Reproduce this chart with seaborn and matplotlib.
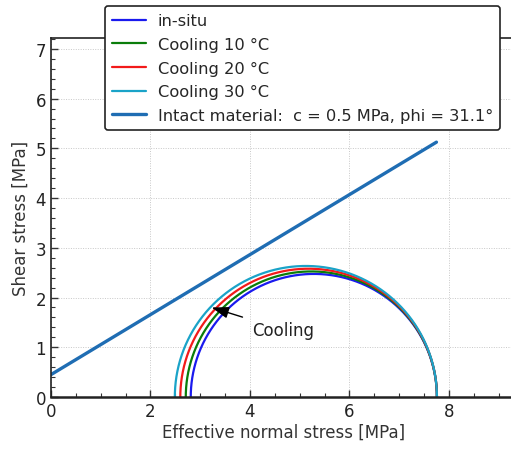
import numpy as np
import pandas as pd
import matplotlib
matplotlib.use("Agg")
import matplotlib.pyplot as plt
import seaborn as sns
from matplotlib.ticker import MultipleLocator

# Mohr circles: minimum and maximum effective principal stress [MPa]
series = ["in-situ", "Cooling 10 °C", "Cooling 20 °C", "Cooling 30 °C"]
sigma3 = [2.81, 2.71, 2.60, 2.49]
sigma1 = [7.76, 7.76, 7.76, 7.76]
colors = ["#1a1aee", "#0a7d0a", "#f21a1a", "#1aa3c8"]

# Failure envelope (intact material)
env_label = "Intact material:  c = 0.5 MPa, phi = 31.1°"
env_intercept = 0.45
env_phi_deg = 31.1
env_sigma = [0.0, 7.75]
env_color = "#1f6db3"

rows = []
theta = np.linspace(0, np.pi, 300)
for name, s3, s1 in zip(series, sigma3, sigma1):
    c = (s1 + s3) / 2
    r = (s1 - s3) / 2
    for t in theta:
        rows.append({"series": name, "sigma": c + r * np.cos(t), "tau": r * np.sin(t)})
circ = pd.DataFrame(rows)

env = pd.DataFrame({"sigma": env_sigma,
                    "tau": [env_intercept + np.tan(np.radians(env_phi_deg)) * s for s in env_sigma],
                    "series": env_label})

sns.set_style("white")
plt.rcParams["font.family"] = ["DejaVu Sans"]

fig = plt.figure(figsize=(5.11, 4.52), dpi=100)
ax = fig.add_axes([0.0998, 0.1195, 0.91, 0.7942])

sns.lineplot(data=circ, x="sigma", y="tau", hue="series", hue_order=series,
             palette=colors, sort=False, estimator=None, lw=1.6, ax=ax)
sns.lineplot(data=env, x="sigma", y="tau", color=env_color, lw=2.4,
             label=env_label, sort=False, estimator=None, ax=ax)

ax.set_xlim(0, 9.35)
ax.set_ylim(0, 7.22)
ax.xaxis.set_major_locator(MultipleLocator(2))
ax.xaxis.set_minor_locator(MultipleLocator(0.5))
ax.yaxis.set_major_locator(MultipleLocator(1))
ax.yaxis.set_minor_locator(MultipleLocator(0.2))
ax.tick_params(which="both", direction="in", bottom=True, left=True,
               colors="#333333", labelcolor="#222222", labelsize=12)
ax.tick_params(which="major", length=5, width=1)
ax.tick_params(which="minor", length=3, width=0.8)
ax.grid(True, which="major", color="#c8c8c8", linestyle=(0, (1, 1.5)), linewidth=0.7)
for sp in ax.spines.values():
    sp.set_color("#222222")
    sp.set_linewidth(1.2)
ax.spines["bottom"].set_linewidth(1.8)

ax.set_xlabel("Effective normal stress [MPa]", fontsize=12, color="#333333", labelpad=2)
ax.set_ylabel("Shear stress [MPa]", fontsize=12, color="#333333", labelpad=4)

ax.annotate("Cooling", xy=(3.23, 1.80), xytext=(4.05, 1.35), fontsize=12, color="#222222",
            va="center", ha="left",
            arrowprops=dict(arrowstyle="-|>,head_length=0.65,head_width=0.22", color="black",
                            lw=1.0, mutation_scale=16, shrinkA=5, shrinkB=0))

leg = ax.legend(loc="upper left", bbox_to_anchor=(105 / 511, 1 - 7 / 452),
                bbox_transform=fig.transFigure, fontsize=11.7, frameon=True,
                fancybox=True, edgecolor="#222222", framealpha=1,
                borderaxespad=0, handlelength=2.05, handletextpad=0.75,
                labelspacing=0.53, borderpad=0.45)
leg.get_frame().set_linewidth(1.2)

fig.savefig("out.png", dpi=100)
